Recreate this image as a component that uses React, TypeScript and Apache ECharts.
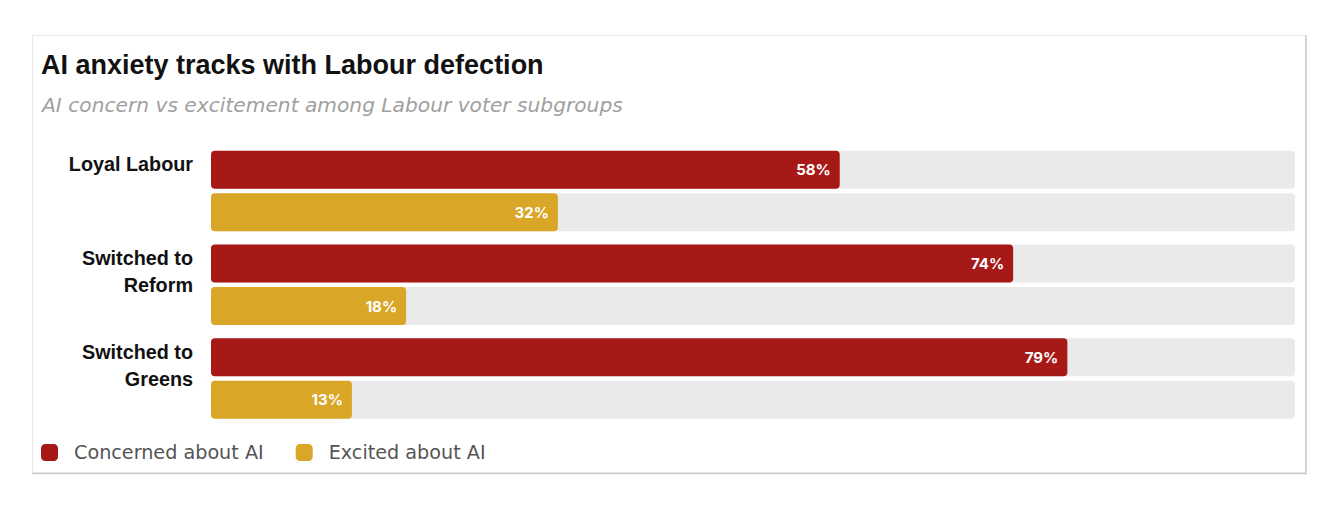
import React, { useEffect, useRef } from "react";
import * as echarts from "echarts";

const categories = ["Loyal Labour", "Switched to Reform", "Switched to Greens"];
const concerned = [58, 74, 79];
const excited = [32, 18, 13];
const seriesNames = ["Concerned about AI", "Excited about AI"];

const RED = "#A71916";
const GOLD = "#D9A628";

export default function App() {
  const ref = useRef<HTMLDivElement>(null);
  useEffect(() => {
    if (!ref.current) return;
    const chart = echarts.init(ref.current, undefined, { renderer: "svg" });
    const labelCommon = {
      show: true,
      position: "insideRight" as const,
      distance: 9,
      color: "#fff",
      fontFamily: "Inter, 'Open Sans', sans-serif",
      fontWeight: "bold" as const,
      fontSize: 15,
      formatter: (p: any) => p.value + "%",
    };
    chart.setOption({
      animation: false,
      graphic: [
        {
          type: "rect",
          shape: { x: 32.5, y: 35.5, width: 1273, height: 437.5 },
          style: { fill: "#fff", stroke: "#e6e6e6", lineWidth: 1 },
          z: -10,
        },
        {
          type: "polyline",
          shape: { points: [[1306, 35], [1306, 473.5], [32, 473.5]] },
          style: { fill: null, stroke: "#c9c9d2", lineWidth: 1.5 },
          z: -9,
        },
        {
          type: "text",
          x: 41,
          y: 65,
          style: {
            text: "AI anxiety tracks with Labour defection",
            fill: "#111",
            font: "bold 27px 'Liberation Sans', Arial, sans-serif",
            verticalAlign: "middle",
          },
        },
        {
          type: "text",
          x: 42,
          y: 105,
          style: {
            text: "AI concern vs excitement among Labour voter subgroups",
            fill: "#a0a0a0",
            font: "oblique 20.2px 'DejaVu Sans', sans-serif",
            verticalAlign: "middle",
          },
        },
      ],
      legend: {
        left: 41,
        top: 443,
        padding: 0,
        itemWidth: 17,
        itemHeight: 17,
        itemGap: 32,
        icon: "roundRect",
        textStyle: {
          color: "#555",
          fontSize: 19.2,
          fontFamily: "'DejaVu Sans', sans-serif",
          padding: [0, 0, 0, 11],
        },
        data: seriesNames,
      },
      grid: { left: 211, right: 43, top: 144, height: 281.5, containLabel: false },
      xAxis: {
        type: "value",
        min: 0,
        max: 100,
        show: false,
      },
      yAxis: {
        type: "category",
        inverse: true,
        data: categories,
        axisLine: { show: false },
        axisTick: { show: false },
        axisLabel: {
          margin: 18,
          color: "#111",
          fontSize: 19.8,
          fontWeight: "bold",
          fontFamily: "'Liberation Sans', Arial, sans-serif",
          lineHeight: 27,
          align: "right",
          verticalAlign: "middle",
          padding: [5, 0, 0, 0],
          formatter: (v: string) => {
            const lines = v.replace("Switched to ", "Switched to\n").split("\n");
            while (lines.length < 3) lines.push(" ");
            return lines.join("\n");
          },
        },
      },
      series: [
        {
          name: seriesNames[0],
          type: "bar",
          data: concerned,
          barWidth: 38,
          barGap: "12%",
          itemStyle: { color: RED, borderRadius: 4 },
          showBackground: true,
          backgroundStyle: { color: "#eaeaea", borderRadius: 4 },
          label: labelCommon,
        },
        {
          name: seriesNames[1],
          type: "bar",
          data: excited,
          barWidth: 38,
          itemStyle: { color: GOLD, borderRadius: 4 },
          showBackground: true,
          backgroundStyle: { color: "#eaeaea", borderRadius: 4 },
          label: labelCommon,
        },
      ],
    });
    return () => chart.dispose();
  }, []);
  return (
    <div
      ref={ref}
      style={{ position: "fixed", left: 0, top: 0, width: 1338, height: 514, background: "#fff" }}
    />
  );
}
